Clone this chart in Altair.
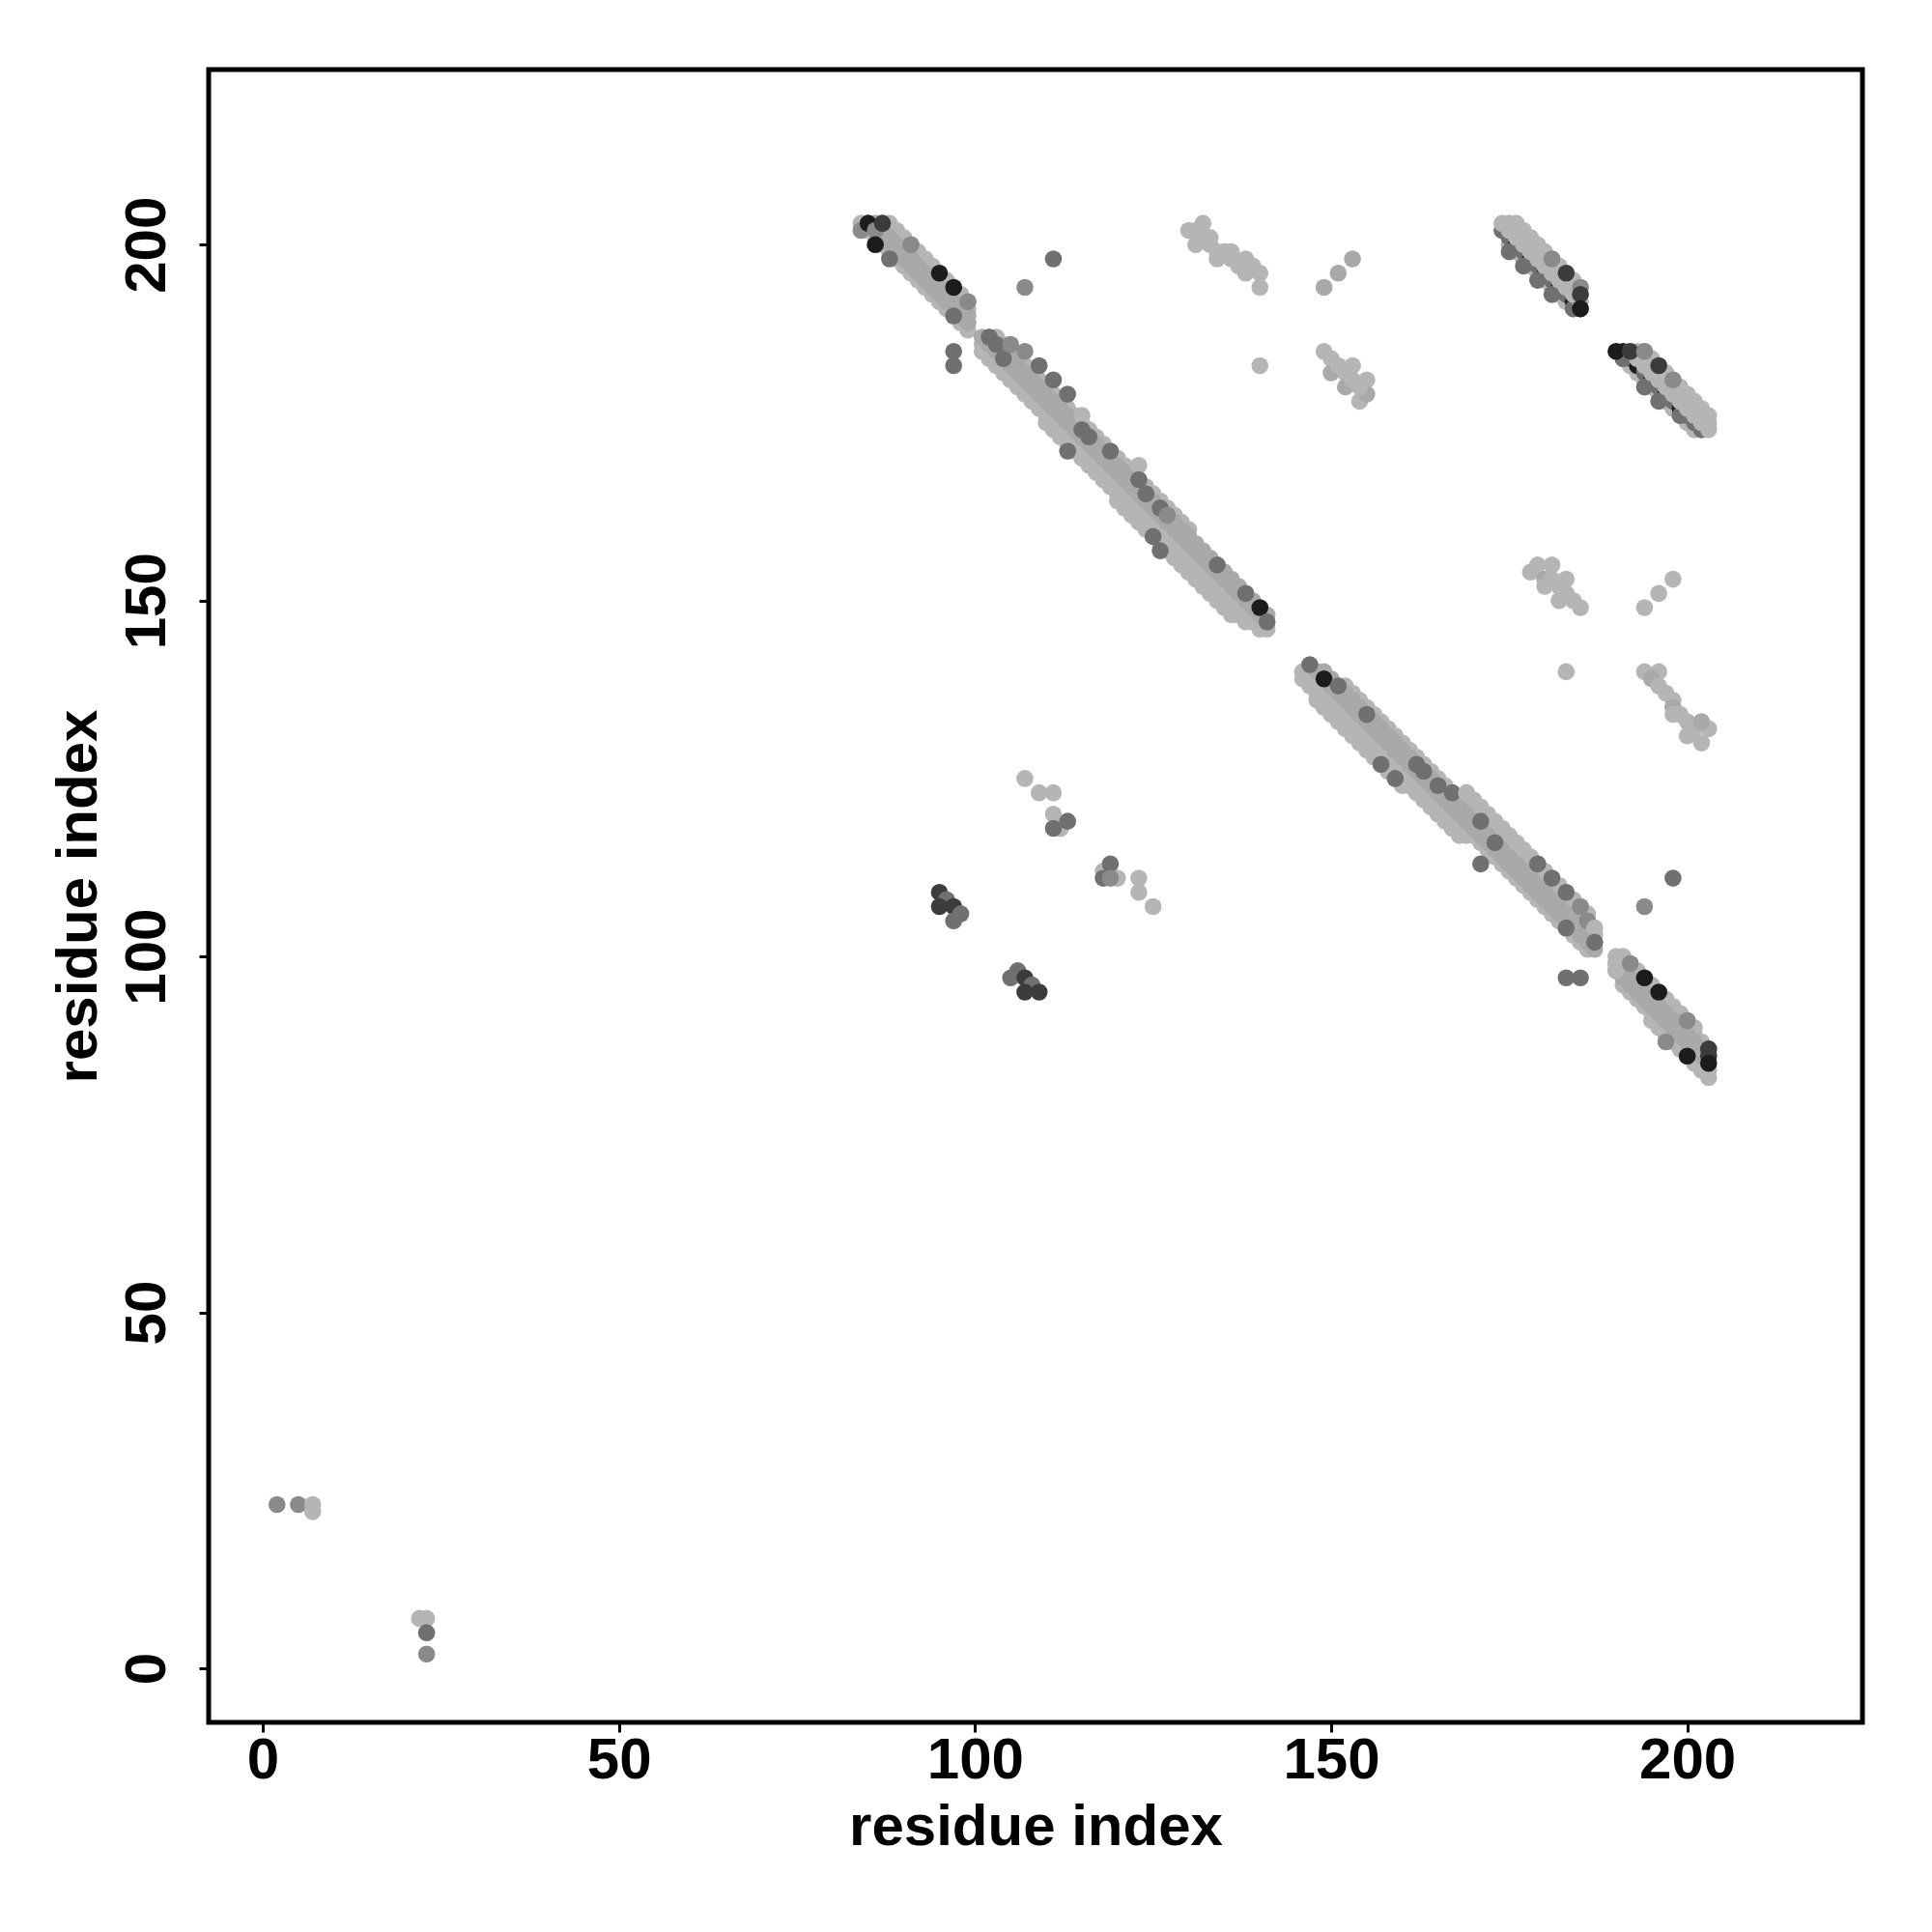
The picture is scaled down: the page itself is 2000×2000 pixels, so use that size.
import altair as alt
import pandas as pd

# grey shades used by the points
SHADES = {"K": "#1c1c1c", "D": "#3c3c3c", "M": "#707070", "G": "#8a8a8a",
          "A": "#a9a9a9", "L": "#b5b5b5"}

# light fill of the contact bands, run-length encoded per anti-diagonal:
# (i + j, first i, last i, shade)
band_runs = [
    # band at i 84-99
    (287, 84, 99, "L"), (290, 87, 99, "L"), (291, 88, 99, "L"),
    (288, 85, 99, "A"), (289, 86, 99, "A"),
    # band at i 101-141
    (290, 103, 130, "L"), (287, 101, 141, "L"), (286, 101, 140, "L"),
    (285, 110, 138, "L"), (284, 120, 136, "L"),
    (289, 102, 141, "A"), (288, 101, 141, "A"),
    # band at i 146-187
    (292, 169, 186, "L"), (291, 170, 187, "L"), (290, 152, 187, "L"),
    (287, 147, 186, "L"), (286, 146, 169, "L"), (285, 146, 168, "L"),
    (284, 148, 160, "L"),
    (289, 149, 187, "A"), (288, 148, 187, "A"),
    # band at i 190-203
    (291, 191, 201, "L"), (290, 190, 203, "L"), (287, 191, 203, "L"),
    (286, 195, 203, "L"),
    (289, 190, 203, "A"), (288, 190, 203, "A"),
]

# top-right bands: lower edge, then upper part (drawn over the dark middle line)
side_low_runs = [(375, 175, 184, "L"), (375, 191, 201, "L")]
side_high_runs = [(377, 174, 185, "L"), (378, 175, 185, "L"), (379, 176, 185, "L"),
                  (377, 192, 203, "L"), (378, 193, 203, "L"), (379, 194, 203, "L")]

# dark middle line of the top-right bands (partly covered)
mid_x = [174, 175, 176, 177, 178, 179, 180, 181, 182, 183, 184, 185,
         175, 177, 179, 181, 184,
         191, 192, 193, 194, 195, 196, 197, 198, 199, 200, 201, 202,
         191, 194, 196, 199]
mid_y = [202, 201, 200, 199, 198, 197, 196, 195, 194, 193, 192, 191,
         199, 197, 195, 193, 191,
         185, 184, 183, 182, 181, 180, 179, 178, 177, 176, 175, 174,
         184, 180, 178, 176]
mid_c = ["M", "M", "K", "M", "K", "M", "K", "M", "K", "M", "K", "M",
         "M", "M", "M", "M", "M",
         "K", "M", "K", "M", "K", "M", "K", "M", "K", "M", "M", "M",
         "M", "M", "M", "M"]

# light off-diagonal clusters
cl_x = [130, 131, 132, 131, 132, 133, 133, 134, 134, 135, 136, 136, 137, 138, 138, 139, 140, 140,
        149, 151, 153,
        149, 150, 150, 151, 152, 153, 152, 153, 155, 154, 155, 154,
        178, 179, 181, 180, 180, 181, 182, 183, 182, 183, 184, 185,
        194, 196, 198,
        194, 196, 195, 196, 197, 198, 198, 199, 198, 200, 201, 200, 202, 203, 202,
        107, 109, 111, 111, 112, 118, 120, 123, 123, 125]
cl_y = [202, 202, 203, 200, 201, 201, 200, 199, 198, 199, 199, 198, 197, 198, 196, 197, 196, 194,
        194, 196, 198,
        185, 184, 182, 183, 182, 183, 180, 181, 181, 178, 179, 180,
        154, 155, 155, 153, 152, 153, 152, 153, 150, 151, 150, 149,
        149, 151, 153,
        140, 140, 139, 138, 137, 136, 135, 134, 134, 133, 132, 131, 130, 132, 133,
        125, 123, 123, 120, 118, 112, 111, 111, 109, 107]
cl_c = ["L"] * 18 + ["A", "A", "A"] + \
       ["L", "L", "A", "L", "L", "L", "A", "L", "L", "L", "A", "L"] + \
       ["L", "L", "L", "A", "L", "L", "L", "L", "L", "L", "L", "L"] + \
       ["L", "L", "L"] + \
       ["L", "L", "A", "L", "L", "L", "A", "L", "L", "L", "L", "L", "L", "L", "A"] + \
       ["L"] * 10

# coloured points drawn on top
over_x = [84, 85, 86, 86, 87, 88, 91, 95, 97, 99, 97,
          102, 103, 104, 105, 107, 109, 111, 113, 115, 115, 116, 119, 123, 123, 124, 126,
          127, 125, 126, 134, 138, 140, 141,
          147, 149, 151, 155, 157, 159, 162, 163, 165, 167, 169, 171, 173, 179, 181, 183,
          185, 186, 187, 187, 183,
          190, 190, 192, 194, 196, 197, 200, 200, 203, 203, 203,
          97, 97, 107, 111, 113, 140, 183, 171, 183, 185, 194, 198,
          113, 111, 119, 118, 119,
          95, 96, 95, 97, 98, 97,
          106, 105, 107, 108, 107, 109,
          181, 183, 185, 185, 185,
          190, 192, 194, 196, 198,
          2, 5, 7, 7, 22, 23, 23, 23]
over_y = [202, 203, 202, 200, 203, 198, 200, 196, 194, 192, 190,
          187, 186, 184, 186, 185, 183, 181, 179, 176, 174, 173, 171, 169, 167, 165, 163,
          162, 159, 157, 155, 151, 149, 147,
          141, 139, 138, 134, 127, 125, 127, 126, 124, 123, 123, 119, 116, 113, 111, 109,
          107, 105, 104, 102, 104,
          99, 98, 99, 97, 95, 88, 91, 86, 87, 86, 85,
          185, 183, 194, 198, 171, 183, 140, 113, 97, 97, 107, 111,
          119, 118, 113, 111, 111,
          109, 108, 107, 107, 106, 105,
          98, 97, 97, 96, 95, 95,
          198, 196, 194, 193, 191,
          185, 185, 185, 183, 181,
          23, 23, 23, 22, 7, 7, 5, 2]
over_c = ["G", "K", "G", "K", "D", "M", "G", "K", "K", "G", "M",
          "M", "M", "M", "G", "G", "M", "M", "M", "L", "M", "M", "M", "L", "M", "M", "M",
          "G", "M", "M", "M", "M", "K", "M",
          "M", "K", "M", "M", "M", "M", "M", "M", "M", "M", "L", "M", "M", "M", "M", "M",
          "G", "G", "L", "M", "M",
          "L", "L", "G", "K", "K", "G", "G", "K", "D", "D", "K",
          "M", "M", "G", "M", "M", "L", "L", "M", "M", "M", "G", "M",
          "M", "M", "M", "M", "G",
          "D", "M", "D", "D", "M", "M",
          "M", "M", "D", "M", "D", "D",
          "G", "D", "G", "D", "K",
          "K", "D", "G", "D", "G",
          "G", "G", "L", "L", "L", "L", "M", "G"]

X_TICKS = [0, 50, 100, 150, 200]
Y_TICKS = [0, 50, 100, 150, 200]

rows = []


def add_runs(runs):
    for s, a, b, c in runs:
        for i in range(a, b + 1):
            rows.append((i, s - i, c))


add_runs(band_runs)
add_runs(side_low_runs)
for x, y, c in zip(mid_x, mid_y, mid_c):
    rows.append((x, y, c))
add_runs(side_high_runs)
for x, y, c in zip(cl_x, cl_y, cl_c):
    rows.append((x, y, c))
for x, y, c in zip(over_x, over_y, over_c):
    rows.append((x, y, c))

df = pd.DataFrame(rows, columns=["x", "y", "code"])
df["shade"] = df["code"].map(SHADES)
df["order"] = range(len(df))

FONT = "Liberation Sans"
W, H = 1712, 1711
DOMAIN = [-7.6, 224.6]

chart = alt.Chart(df).mark_circle(size=310, opacity=1, strokeWidth=0).encode(
    x=alt.X("x:Q", scale=alt.Scale(domain=DOMAIN, nice=False, zero=False),
            axis=alt.Axis(values=X_TICKS, title="residue index", format="d",
                          domain=False, grid=False, tickSize=10, tickWidth=3,
                          tickColor="black", labelFont=FONT, labelFontSize=60,
                          labelFontWeight="bold", labelColor="black",
                          labelPadding=0, labelFlush=False, labelOverlap=False,
                          titleFont=FONT, titleFontSize=60, titleFontWeight="bold",
                          titleColor="black", titleX=W / 2, titleY=126,
                          titleBaseline="alphabetic", titleAlign="center")),
    y=alt.Y("y:Q", scale=alt.Scale(domain=DOMAIN, nice=False, zero=False),
            axis=alt.Axis(values=Y_TICKS, title="residue index", format="d",
                          domain=False, grid=False, tickSize=10, tickWidth=3,
                          tickColor="black", labelFont=FONT, labelFontSize=60,
                          labelFontWeight="bold", labelColor="black",
                          labelAngle=270, labelAlign="center", labelBaseline="bottom",
                          labelPadding=23, labelFlush=False, labelOverlap=False,
                          titleFont=FONT, titleFontSize=60, titleFontWeight="bold",
                          titleColor="black", titleAngle=270, titleX=-117,
                          titleY=H / 2, titleBaseline="alphabetic",
                          titleAlign="center")),
    color=alt.Color("shade:N", scale=None),
    order=alt.Order("order:Q"),
).properties(
    width=W, height=H,
    autosize=alt.AutoSizeParams(type="none"),
    padding={"left": 208, "top": 64, "right": 40, "bottom": 200},
    background="white",
).configure_view(stroke="black", strokeWidth=5)

chart.save("out.html", embed_options={"renderer": "svg", "actions": False})
